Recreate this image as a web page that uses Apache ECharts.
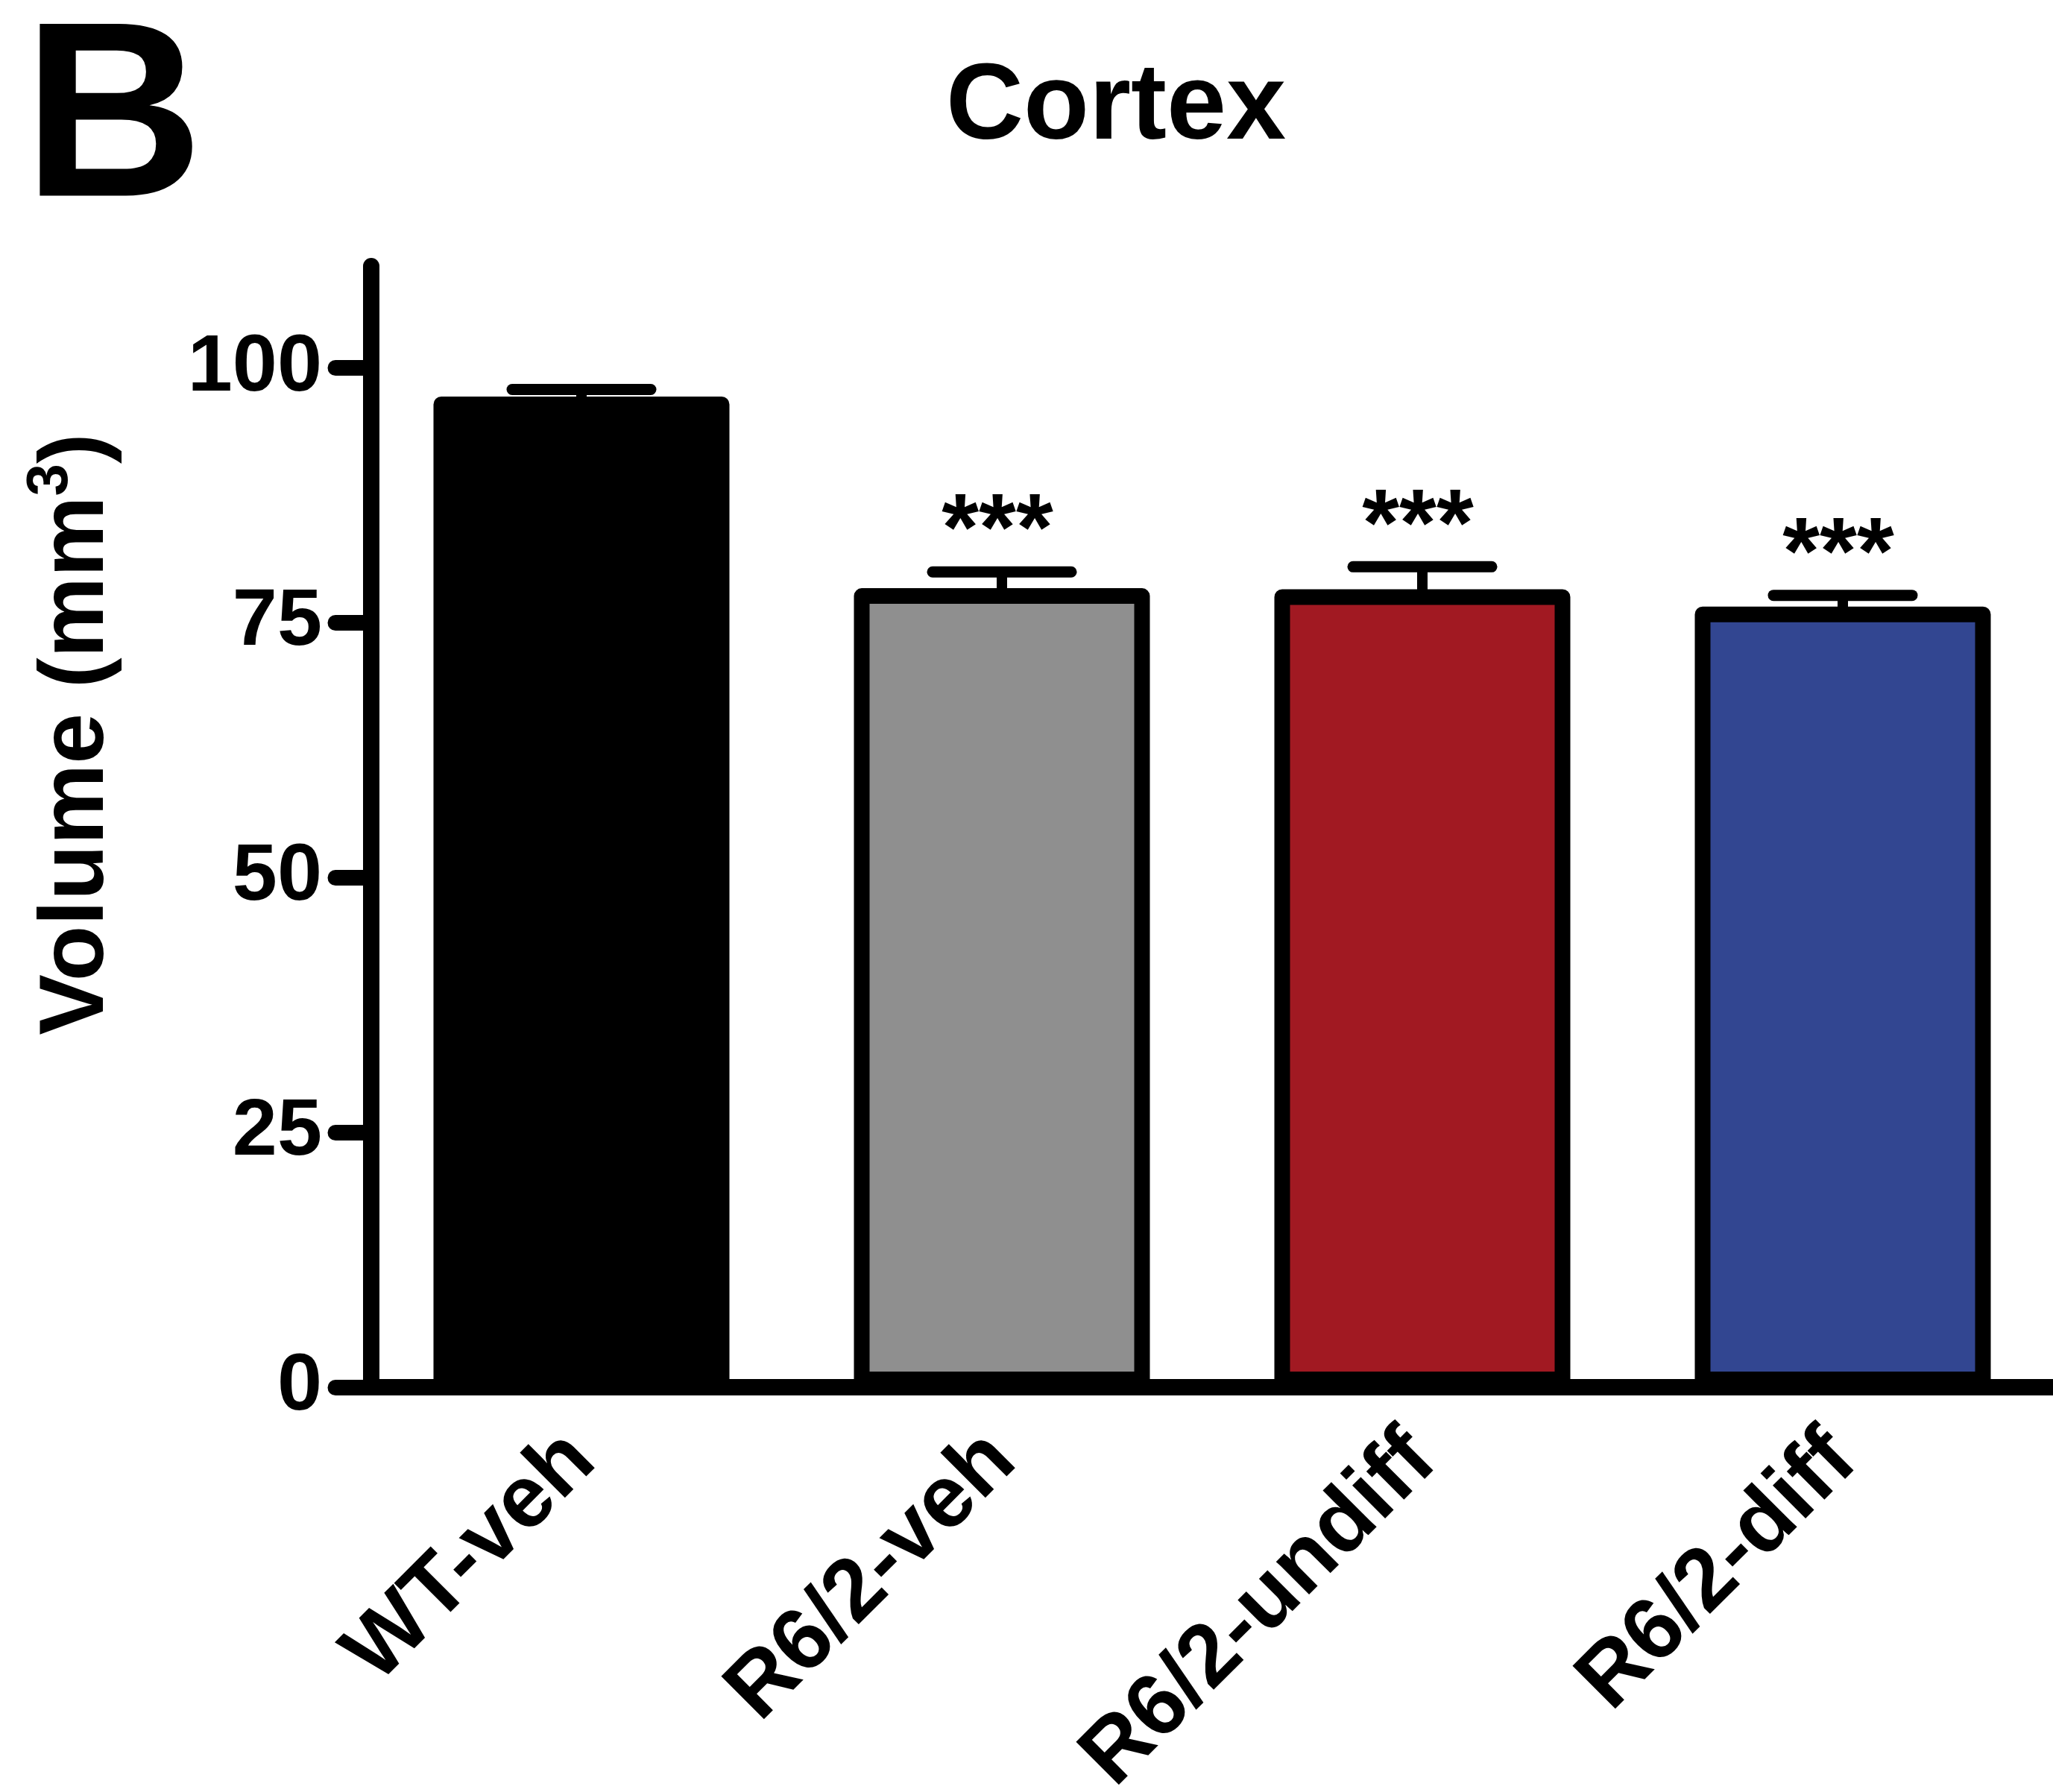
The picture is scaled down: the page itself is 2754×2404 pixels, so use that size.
<!DOCTYPE html>
<html><head><meta charset="utf-8">
<script src="https://cdn.jsdelivr.net/npm/echarts@6/dist/echarts.min.js"></script>
<style>html,body{margin:0;padding:0;background:#fff}#c{width:2754px;height:2404px}</style>
</head><body><div id="c"></div>
<script>
const categories = ['WT-veh', 'R6/2-veh', 'R6/2-undiff', 'R6/2-diff'];
const means = [97.2, 78.4, 78.3, 76.6];
const sems = [0.7, 1.6, 2.2, 1.1];
const significance = ['', '***', '***', '***'];
const barColors = ['#000000', '#8f8f8f', '#a11922', '#324691'];
const yTicks = [0, 25, 50, 75, 100];
const FONT = '"Liberation Sans", Arial, Helvetica, sans-serif';

const chart = echarts.init(document.getElementById('c'), null, {renderer: 'canvas'});
const option = {
  animation: false,
  backgroundColor: '#ffffff',
  grid: {left: 498, right: 0, top: 357, bottom: 543, containLabel: false, outerBoundsMode: 'none'},
  xAxis: {
    type: 'category', data: categories, boundaryGap: true,
    axisLine: {lineStyle: {color: '#000', width: 22}},
    axisTick: {show: false},
    axisLabel: {rotate: 45, margin: 80, interval: 0, color: '#000', fontFamily: FONT, fontWeight: 'bold', fontSize: 118}
  },
  yAxis: {
    type: 'value', min: 0, max: 110, interval: 25,
    splitLine: {show: false},
    axisLine: {show: true, lineStyle: {color: '#000', width: 22}},
    axisTick: {show: true, length: 48, customValues: yTicks, lineStyle: {color: '#000', width: 21, cap: 'round'}},
    axisLabel: {margin: 66, customValues: yTicks, color: '#000', fontFamily: FONT, fontWeight: 'bold', fontSize: 108}
  },
  series: [
    {
      type: 'bar', barWidth: 397, z: 2,
      data: means.map((v, i) => ({value: v, itemStyle: {color: barColors[i]}})),
      itemStyle: {borderColor: '#000', borderWidth: 21, borderJoin: 'round'}
    },
    {
      type: 'custom', z: 3,
      encode: {x: 0, y: 2},
      data: means.map((v, i) => [i, v, v + sems[i]]),
      renderItem: function (params, api) {
        const i = api.value(0);
        const base = api.coord([i, api.value(1)]);
        const top = api.coord([i, api.value(2)]);
        const children = [
          {type: 'line', shape: {x1: base[0], y1: base[1] + 4, x2: top[0], y2: top[1]}, style: {stroke: '#000', lineWidth: 14}},
          {type: 'line', shape: {x1: top[0] - 93, y1: top[1], x2: top[0] + 93, y2: top[1]}, style: {stroke: '#000', lineWidth: 15, lineCap: 'round'}}
        ];
        const s = significance[i];
        if (s) {
          children.push({type: 'text', x: top[0] - 6, y: top[1] - 51,
            style: {text: s, font: 'bold 128px ' + FONT, fill: '#000', align: 'center', verticalAlign: 'middle'}});
        }
        return {type: 'group', children: children};
      }
    }
  ],
  graphic: [
    {type: 'text', x: 31, y: 170, style: {text: 'B', font: 'bold 335px ' + FONT, fill: '#000', align: 'left', verticalAlign: 'middle'}},
    {type: 'text', x: 1497, y: 146, style: {text: 'Cortex', font: 'bold 144px ' + FONT, fill: '#000', align: 'center', verticalAlign: 'middle'}},
    {type: 'text', x: 104, y: 985, rotation: Math.PI / 2,
      style: {
        text: '{a|Volume (mm}{s|3}{a|)}', fill: '#000', align: 'center', verticalAlign: 'middle',
        rich: {
          a: {fontFamily: FONT, fontWeight: 'bold', fontSize: 122, lineHeight: 150, fill: '#000'},
          s: {fontFamily: FONT, fontWeight: 'bold', fontSize: 78, lineHeight: 78, verticalAlign: 'top', fill: '#000'}
        }
      }}
  ]
};
chart.setOption(option);
</script>
</body></html>
